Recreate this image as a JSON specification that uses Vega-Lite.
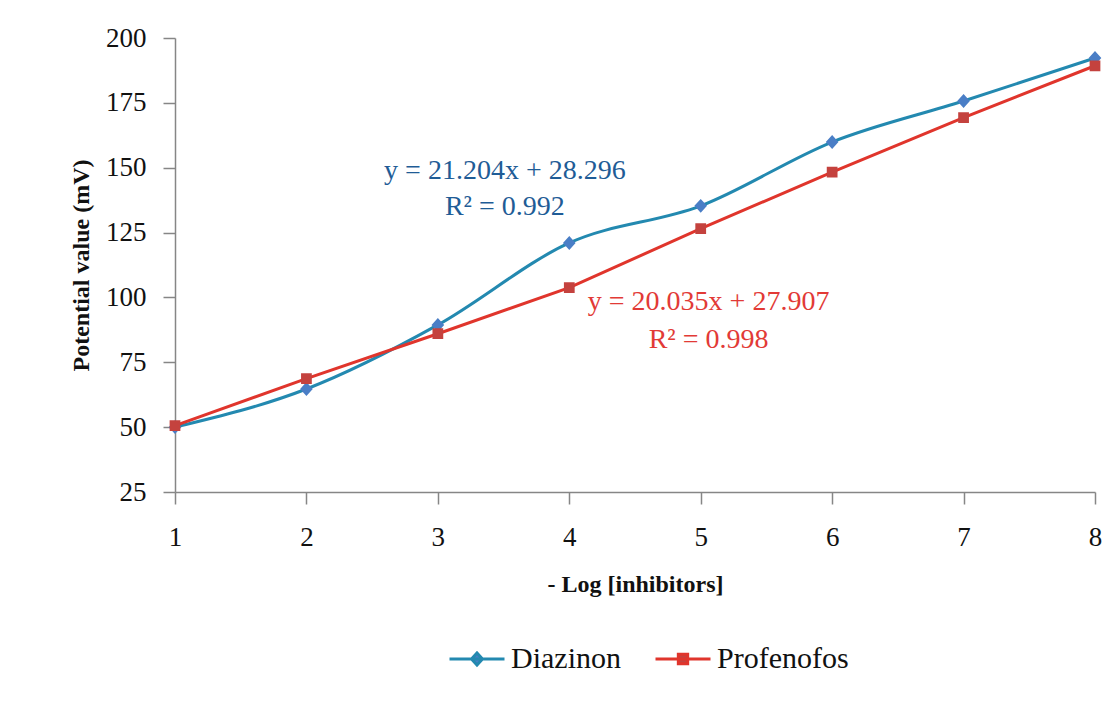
{
  "$schema": "https://vega.github.io/schema/vega-lite/v6.json",
  "autosize": "none",
  "width": 920,
  "height": 454,
  "padding": {"left": 175, "top": 38, "right": 22, "bottom": 212},
  "background": "white",
  "config": {
    "font": "Liberation Serif",
    "view": {"stroke": null},
    "legend": {"labelFont": "Liberation Serif"},
    "axis": {
      "labelFont": "Liberation Serif",
      "titleFont": "Liberation Serif",
      "labelFontSize": 27,
      "titleFontSize": 24,
      "labelColor": "#111111",
      "titleColor": "#111111",
      "domainColor": "#868686",
      "tickColor": "#868686",
      "domainWidth": 1.5,
      "tickWidth": 1.5,
      "tickSize": 12,
      "grid": false,
      "labelFlush": false
    }
  },
  "datasets": {
    "series": [
      {"x": 1, "y": 50.0, "series": "Diazinon"},
      {"x": 2, "y": 64.7, "series": "Diazinon"},
      {"x": 3, "y": 89.4, "series": "Diazinon"},
      {"x": 4, "y": 121.0, "series": "Diazinon"},
      {"x": 5, "y": 135.3, "series": "Diazinon"},
      {"x": 6, "y": 159.9, "series": "Diazinon"},
      {"x": 7, "y": 175.7, "series": "Diazinon"},
      {"x": 8, "y": 192.3, "series": "Diazinon"},
      {"x": 1, "y": 50.6, "series": "Profenofos"},
      {"x": 2, "y": 68.7, "series": "Profenofos"},
      {"x": 3, "y": 86.0, "series": "Profenofos"},
      {"x": 4, "y": 103.8, "series": "Profenofos"},
      {"x": 5, "y": 126.5, "series": "Profenofos"},
      {"x": 6, "y": 148.3, "series": "Profenofos"},
      {"x": 7, "y": 169.3, "series": "Profenofos"},
      {"x": 8, "y": 189.3, "series": "Profenofos"}
    ],
    "labels": [
      {"x": 3.51, "y": 148.6, "text": "y = 21.204x + 28.296", "series": "Diazinon"},
      {"x": 3.51, "y": 134.8, "text": "R² = 0.992", "series": "Diazinon"},
      {"x": 5.06, "y": 98.2, "text": "y = 20.035x + 27.907", "series": "Profenofos"},
      {"x": 5.06, "y": 83.4, "text": "R² = 0.998", "series": "Profenofos"}
    ]
  },
  "layer": [
    {
      "data": {"name": "series"},
      "transform": [{"filter": "datum.series === 'Diazinon'"}],
      "mark": {"type": "line", "interpolate": "monotone", "strokeWidth": 3},
      "encoding": {
        "x": {
          "field": "x", "type": "quantitative",
          "scale": {"domain": [1, 8], "nice": false, "zero": false},
          "axis": {"values": [1, 2, 3, 4, 5, 6, 7, 8], "format": "d", "title": "- Log [inhibitors]", "titleFontWeight": "bold", "labelPadding": 20, "titlePadding": 22}
        },
        "y": {
          "field": "y", "type": "quantitative",
          "scale": {"domain": [25, 200], "nice": false, "zero": false},
          "axis": {"values": [25, 50, 75, 100, 125, 150, 175, 200], "title": "Potential value (mV)", "titleFontWeight": "bold", "labelPadding": 17, "titlePadding": 12}
        },
        "color": {
          "field": "series", "type": "nominal",
          "scale": {"domain": ["Diazinon", "Profenofos"], "range": ["#2389B0", "#E0352C"]},
          "legend": {
            "title": null,
            "orient": "none",
            "legendX": 265,
            "legendY": 606,
            "direction": "horizontal",
            "symbolSize": 121,
            "symbolStrokeWidth": 3,
            "symbolOpacity": 1,
            "symbolOffset": 22,
            "labelOffset": 19,
            "labelFont": "Liberation Serif",
            "labelFontSize": 30,
            "labelColor": "#111111",
            "columnPadding": 25
          }
        }
      }
    },
    {
      "data": {"name": "series"},
      "transform": [{"filter": "datum.series === 'Profenofos'"}],
      "mark": {"type": "line", "strokeWidth": 3},
      "encoding": {
        "x": {"field": "x", "type": "quantitative"},
        "y": {"field": "y", "type": "quantitative"},
        "color": {"field": "series", "type": "nominal"}
      }
    },
    {
      "data": {"name": "series"},
      "mark": {"type": "point", "filled": true, "opacity": 1, "size": 160},
      "encoding": {
        "x": {"field": "x", "type": "quantitative"},
        "y": {"field": "y", "type": "quantitative"},
        "shape": {
          "field": "series", "type": "nominal",
          "scale": {"domain": ["Diazinon", "Profenofos"], "range": ["M-5,0H5M0,-1.1L1,0L0,1.1L-1,0Z", "M-5,0H5M-0.85,-0.85H0.85V0.85H-0.85Z"]},
          "legend": {"title": null}
        },
        "fill": {
          "field": "series", "type": "nominal",
          "scale": {"domain": ["Diazinon", "Profenofos"], "range": ["#4A7EC6", "#C4423E"]},
          "legend": {"title": null}
        }
      }
    },
    {
      "data": {"name": "labels"},
      "transform": [{"filter": "datum.series === 'Diazinon'"}],
      "mark": {"type": "text", "font": "Liberation Serif", "fontSize": 28, "align": "center", "baseline": "middle", "color": "#1F5C96"},
      "encoding": {
        "x": {"field": "x", "type": "quantitative"},
        "y": {"field": "y", "type": "quantitative"},
        "text": {"field": "text", "type": "nominal"}
      }
    },
    {
      "data": {"name": "labels"},
      "transform": [{"filter": "datum.series === 'Profenofos'"}],
      "mark": {"type": "text", "font": "Liberation Serif", "fontSize": 28, "align": "center", "baseline": "middle", "color": "#E23A36"},
      "encoding": {
        "x": {"field": "x", "type": "quantitative"},
        "y": {"field": "y", "type": "quantitative"},
        "text": {"field": "text", "type": "nominal"}
      }
    }
  ]
}
